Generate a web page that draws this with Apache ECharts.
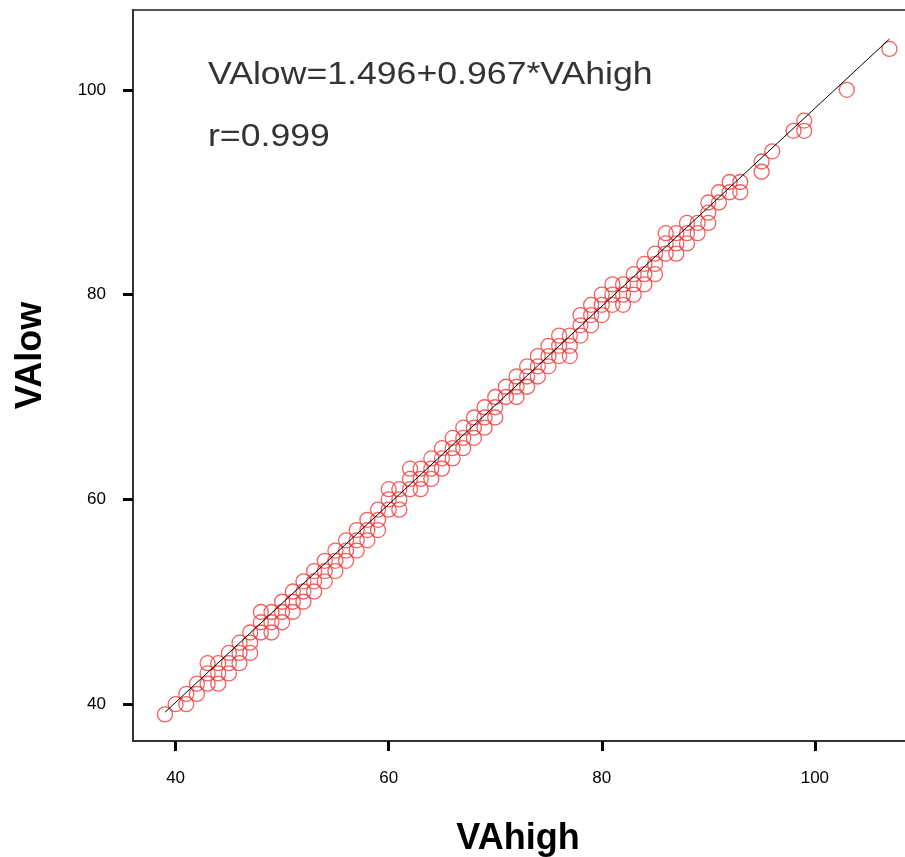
<!DOCTYPE html>
<html>
<head>
<meta charset="utf-8">
<title>VAlow vs VAhigh</title>
<script src="https://cdn.jsdelivr.net/npm/echarts@6/dist/echarts.min.js"></script>
<style>
  html, body { margin: 0; padding: 0; background: #fff; }
  #chart { width: 905px; height: 857px; }
</style>
</head>
<body>
<div id="chart"></div>
<script>
"use strict";

/***** data *****/
// VAhigh values, one entry per group of points sharing that VAhigh
var vaHigh = [39, 40, 41, 42, 43, 44, 45, 46, 47, 48, 49, 50, 51, 52, 53, 54, 55, 56, 57, 58,
              59, 60, 61, 62, 63, 64, 65, 66, 67, 68, 69, 70, 71, 72, 73, 74, 75, 76, 77, 78,
              79, 80, 81, 82, 83, 84, 85, 86, 87, 88, 89, 90, 91, 92, 93, 95, 96, 98, 99, 103, 107];
// VAlow values observed at each VAhigh above
var vaLow = [
  [39], [40], [41, 40], [42, 41], [44, 43, 42], [44, 43, 42], [45, 44, 43], [46, 45, 44], [47, 46, 45], [49, 48, 47],
  [49, 48, 47], [50, 49, 48], [51, 50, 49], [52, 51, 50], [53, 52, 51], [54, 53, 52], [55, 54, 53], [56, 55, 54], [57, 56, 55], [58, 57, 56],
  [59, 58, 57], [61, 60, 59], [61, 60, 59], [63, 62, 61], [63, 62, 61], [64, 63, 62], [65, 64, 63], [66, 65, 64], [67, 66, 65], [68, 67, 66],
  [69, 68, 67], [70, 69, 68], [71, 70], [72, 71, 70], [73, 72, 71], [74, 73, 72], [75, 74, 73], [76, 75, 74], [76, 75, 74], [78, 77, 76],
  [79, 78, 77], [80, 79, 78], [81, 80, 79], [81, 80, 79], [82, 81, 80], [83, 82, 81], [84, 83, 82], [86, 85, 84], [86, 85, 84], [87, 86, 85],
  [87, 86], [89, 88, 87], [90, 89], [91, 90], [91, 90], [93, 92], [94], [96], [97, 96], [100], [104]
];
var xTicks = [40, 60, 80, 100];
var yTicks = [40, 60, 80, 100];
// fitted line as printed on the chart
var fitA = 1.496;
var fitB = 0.967;
var fitLabel = 'VAlow=1.496+0.967*VAhigh';
var rLabel = 'r=0.999';

/***** build series data *****/
var points = [];
for (var i = 0; i < vaHigh.length; i++) {
  for (var j = 0; j < vaLow[i].length; j++) {
    points.push([vaHigh[i], vaLow[i][j]]);
  }
}
var xFirst = vaHigh[0], xLast = vaHigh[vaHigh.length - 1];
var fitLine = [[xFirst, fitA + fitB * xFirst], [xLast, fitA + fitB * xLast]];

var chart = echarts.init(document.getElementById('chart'));
var fontFam = 'Liberation Sans, Arial, sans-serif';
var labelFont = { color: '#000', fontFamily: fontFam, fontSize: 17 };

var option = {
  animation: false,
  backgroundColor: '#fff',
  grid: {
    left: 133, right: -10, top: 10, bottom: 116,
    outerBoundsMode: 'none',
    show: true, borderColor: '#555', borderWidth: 2, backgroundColor: 'transparent'
  },
  xAxis: {
    type: 'value', min: 36, max: 109.4,
    name: 'VAhigh', nameLocation: 'middle', nameGap: 80,
    nameTextStyle: { color: '#000', fontWeight: 'bold', fontSize: 36, fontFamily: fontFam, padding: [0, 12, 0, 0] },
    axisLine: { show: true, lineStyle: { color: '#333', width: 2 } },
    axisTick: { show: true, customValues: xTicks, length: 10, lineStyle: { color: '#000', width: 3 } },
    axisLabel: Object.assign({ customValues: xTicks, margin: 29 }, labelFont),
    splitLine: { show: false }
  },
  yAxis: {
    type: 'value', min: 36.4, max: 107.8,
    name: 'VAlow', nameLocation: 'middle', nameGap: 84,
    nameTextStyle: { color: '#000', fontWeight: 'bold', fontSize: 36, fontFamily: fontFam, padding: [0, 0, 0, 40] },
    axisLine: { show: true, lineStyle: { color: '#333', width: 2 } },
    axisTick: { show: true, customValues: yTicks, length: 10, lineStyle: { color: '#000', width: 3 } },
    axisLabel: Object.assign({ customValues: yTicks, margin: 27 }, labelFont),
    splitLine: { show: false }
  },
  graphic: [
    { type: 'text', left: 208, top: 60, scaleX: 1.15, style: { text: fitLabel, fill: '#333', fontSize: 31, fontFamily: fontFam } },
    { type: 'text', left: 208, top: 122, scaleX: 1.15, style: { text: rLabel, fill: '#333', fontSize: 31, fontFamily: fontFam } }
  ],
  series: [
    {
      type: 'scatter',
      data: points,
      symbol: 'circle',
      symbolSize: 15,
      itemStyle: { color: 'transparent', borderColor: '#f03a3a', borderWidth: 1.3 },
      z: 2
    },
    {
      type: 'line',
      data: fitLine,
      showSymbol: false,
      lineStyle: { color: '#000', width: 1 },
      z: 3
    }
  ]
};
chart.setOption(option);
</script>
</body>
</html>
